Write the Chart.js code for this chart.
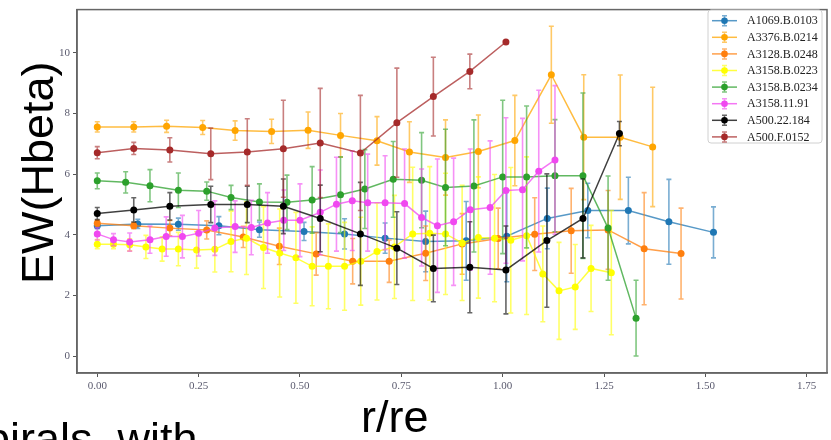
<!DOCTYPE html>
<html lang="en">
<head>
<meta charset="UTF-8">
<title>EW(Hbeta) vs r/re</title>
<script src="https://cdn.jsdelivr.net/npm/chart.js"></script>
<style>
  html, body { margin: 0; padding: 0; background: #fff; }
  #wrap { position: relative; width: 831px; height: 440px; overflow: hidden; }
  #chart { position: absolute; left: 0; top: 0; }
  .big {
    position: absolute;
    font-family: 'Liberation Sans', Arial, sans-serif;
    font-size: 45px;
    line-height: 1;
    color: #000;
    white-space: nowrap;
  }
  #ylab { left: 15px; top: 284px; transform: rotate(-90deg); transform-origin: 0 0; }
  #xlab { left: 361px; top: 394px; }
  #foot { left: -15px; top: 416px; }
</style>
</head>
<body>
<div id="wrap">
  <canvas id="chart" width="831" height="440"></canvas>
  <div class="big" id="ylab">EW(Hbeta)</div>
  <div class="big" id="xlab">r/re</div>
  <div class="big" id="foot">pirals, with</div>
</div>

<script>
// tick values
const xTicks = [0, 0.25, 0.5, 0.75, 1.0, 1.25, 1.5, 1.75];
const yTicks = [0, 2, 4, 6, 8, 10];

// A1069.B.0103
const a1069X = [0, 0.10, 0.20, 0.30, 0.40, 0.51, 0.61, 0.71, 0.81, 0.91, 1.01, 1.11, 1.21, 1.31, 1.41, 1.52];
const a1069Y = [4.30, 4.36, 4.35, 4.30, 4.17, 4.11, 4.03, 3.89, 3.78, 3.80, 3.95, 4.54, 4.80, 4.80, 4.43, 4.08];
const a1069Err = [0.1, 0.15, 0.2, 0.3, 0.25, 0.3, 0.5, 0.5, 1.0, 1.3, 1.5, 1.0, 0.9, 1.1, 1.4, 0.84];

// A3376.B.0214
const a3376X = [0, 0.09, 0.171, 0.26, 0.34, 0.43, 0.52, 0.60, 0.69, 0.77, 0.859, 0.94, 1.03, 1.12, 1.20, 1.29, 1.37];
const a3376Y = [7.56, 7.56, 7.58, 7.54, 7.44, 7.41, 7.45, 7.28, 7.10, 6.73, 6.55, 6.75, 7.11, 9.28, 7.22, 7.22, 6.90];
const a3376Err = [0.17, 0.17, 0.2, 0.23, 0.32, 0.4, 0.6, 0.72, 0.8, 1.0, 1.24, 1.2, 1.49, 1.6, 2.06, 2.05, 1.97];

// A3128.B.0248
const a3128X = [0, 0.09, 0.179, 0.27, 0.36, 0.449, 0.54, 0.63, 0.72, 0.81, 0.90, 0.989, 1.079, 1.169, 1.26, 1.349, 1.44];
const a3128Y = [4.38, 4.30, 4.22, 4.16, 3.93, 3.62, 3.37, 3.13, 3.13, 3.39, 3.70, 3.88, 4.02, 4.13, 4.16, 3.54, 3.38];
const a3128Err = [0.1, 0.1, 0.25, 0.3, 0.35, 0.6, 0.7, 0.75, 0.7, 0.9, 1.0, 1.0, 1.2, 1.4, 1.3, 1.85, 1.5];

// A3158.B.0223
const a3158bX = [0, 0.04, 0.08, 0.12, 0.16, 0.20, 0.245, 0.29, 0.33, 0.368, 0.41, 0.45, 0.49, 0.53, 0.57, 0.61,
                 0.65, 0.69, 0.733, 0.778, 0.82, 0.859, 0.90, 0.94, 0.98, 1.02, 1.059, 1.099, 1.139, 1.179, 1.218, 1.268];
const a3158bY = [3.69, 3.69, 3.67, 3.60, 3.53, 3.53, 3.50, 3.52, 3.78, 3.89, 3.58, 3.40, 3.24, 2.96, 2.96, 2.96,
                 3.13, 3.45, 3.60, 4.03, 4.05, 4.03, 3.73, 3.91, 3.89, 3.82, 3.97, 2.71, 2.15, 2.28, 2.89, 2.75];
const a3158bErr = [0.15, 0.15, 0.2, 0.38, 0.4, 0.55, 0.6, 0.75, 1.0, 1.2, 1.35, 1.45, 1.5, 1.3, 1.4, 1.45,
                   1.45, 1.6, 1.7, 2.2, 2.2, 2.0, 1.9, 2.0, 2.1, 2.4, 2.6, 1.58, 1.6, 1.4, 1.42, 2.05];

// A3158.B.0234
const a3158gX = [0, 0.07, 0.13, 0.20, 0.27, 0.33, 0.40, 0.468, 0.53, 0.60, 0.66, 0.73, 0.80, 0.859, 0.929,
                 1.0, 1.059, 1.129, 1.198, 1.26, 1.329];
const a3158gY = [5.78, 5.73, 5.62, 5.47, 5.44, 5.23, 5.08, 5.07, 5.15, 5.32, 5.51, 5.83, 5.80, 5.56, 5.61,
                 5.91, 5.91, 5.95, 5.95, 4.22, 1.25];
const a3158gErr = [0.26, 0.35, 0.53, 0.57, 0.3, 0.4, 0.6, 0.9, 1.1, 1.25, 1.3, 1.25, 1.57, 1.92, 2.18,
                   2.53, 2.34, 1.85, 2.73, 1.72, 1.25];

// A3158.11.91
const a3158mX = [0, 0.04, 0.08, 0.13, 0.17, 0.21, 0.25, 0.29, 0.34, 0.38, 0.42, 0.46, 0.50, 0.55, 0.59, 0.629,
                 0.667, 0.71, 0.758, 0.80, 0.839, 0.879, 0.92, 0.969, 1.008, 1.049, 1.089, 1.129];
const a3158mY = [4.03, 3.84, 3.76, 3.84, 3.94, 3.94, 4.05, 4.22, 4.27, 4.24, 4.39, 4.48, 4.48, 4.74, 5.01, 5.12,
                 5.06, 5.06, 5.03, 4.57, 4.30, 4.43, 4.83, 4.90, 5.46, 5.49, 6.10, 6.47];
const a3158mErr = [0.2, 0.2, 0.3, 0.45, 0.65, 0.7, 0.75, 0.9, 0.85, 0.9, 1.0, 1.0, 1.2, 1.4, 1.55, 1.64,
                   1.6, 1.55, 1.8, 1.6, 2.2, 2.1, 2.0, 2.2, 2.4, 2.35, 2.67, 2.45];

// A500.22.184
const a500bX = [0, 0.09, 0.179, 0.28, 0.37, 0.459, 0.55, 0.649, 0.739, 0.829, 0.919, 1.008, 1.109, 1.198, 1.288];
const a500bY = [4.70, 4.82, 4.94, 5.00, 5.00, 4.94, 4.54, 4.03, 3.56, 2.89, 2.93, 2.84, 3.81, 4.54, 7.34];
const a500bErr = [0.2, 0.4, 0.45, 0.6, 0.6, 0.9, 1.1, 1.7, 1.2, 1.1, 1.5, 1.45, 2.2, 1.3, 0.4];

// A500.F.0152
const a500fX = [0, 0.09, 0.179, 0.28, 0.37, 0.459, 0.55, 0.649, 0.739, 0.829, 0.919, 1.008];
const a500fY = [6.71, 6.85, 6.80, 6.67, 6.73, 6.84, 7.03, 6.70, 7.70, 8.56, 9.39, 10.36];
const a500fErr = [0.2, 0.2, 0.4, 0.85, 1.1, 1.6, 1.8, 1.9, 1.8, 1.3, 0.57, 0];

const series = [
  { label: 'A1069.B.0103', color: '#1f77b4', x: a1069X, y: a1069Y, err: a1069Err },
  { label: 'A3376.B.0214', color: '#ffa500', x: a3376X, y: a3376Y, err: a3376Err },
  { label: 'A3128.B.0248', color: '#ff7f0e', x: a3128X, y: a3128Y, err: a3128Err },
  { label: 'A3158.B.0223', color: '#ffff00', x: a3158bX, y: a3158bY, err: a3158bErr },
  { label: 'A3158.B.0234', color: '#2ca02c', x: a3158gX, y: a3158gY, err: a3158gErr },
  { label: 'A3158.11.91', color: '#f048f0', x: a3158mX, y: a3158mY, err: a3158mErr },
  { label: 'A500.22.184', color: '#000000', x: a500bX, y: a500bY, err: a500bErr },
  { label: 'A500.F.0152', color: '#a52a2a', x: a500fX, y: a500fY, err: a500fErr }
];

function rgba(hex, a) {
  const n = parseInt(hex.slice(1), 16);
  return 'rgba(' + (n >> 16) + ',' + ((n >> 8) & 255) + ',' + (n & 255) + ',' + a + ')';
}

// vertical error bars with caps, drawn under each dataset's line
const errorBars = {
  id: 'errorBars',
  beforeDatasetDraw(chart, args) {
    const ds = chart.data.datasets[args.index];
    const xs = chart.scales.x, ys = chart.scales.y;
    const ctx = chart.ctx;
    ctx.save();
    ctx.strokeStyle = ds.barColor;
    ctx.lineWidth = 1.6;
    ds.data.forEach((p, j) => {
      const e = ds.errors[j];
      if (!e) return;
      const px = xs.getPixelForValue(p.x);
      const top = ys.getPixelForValue(p.y + e);
      const bot = ys.getPixelForValue(p.y - e);
      ctx.beginPath();
      ctx.moveTo(px, top); ctx.lineTo(px, bot);
      ctx.moveTo(px - 2.5, top); ctx.lineTo(px + 2.5, top);
      ctx.moveTo(px - 2.5, bot); ctx.lineTo(px + 2.5, bot);
      ctx.stroke();
    });
    ctx.restore();
  }
};

// box round the axes + matplotlib-like legend in the upper right
const frameAndLegend = {
  id: 'frameAndLegend',
  afterDraw(chart) {
    const ctx = chart.ctx;
    const a = chart.chartArea;
    ctx.save();
    ctx.strokeStyle = '#666';
    ctx.lineWidth = 1.5;
    ctx.strokeRect(a.left, a.top, a.right - a.left, a.bottom - a.top);

    const bx = 708, by = 10, bw = 114, bh = 133, r = 3;
    ctx.beginPath();
    ctx.moveTo(bx + r, by);
    ctx.arcTo(bx + bw, by, bx + bw, by + bh, r);
    ctx.arcTo(bx + bw, by + bh, bx, by + bh, r);
    ctx.arcTo(bx, by + bh, bx, by, r);
    ctx.arcTo(bx, by, bx + bw, by, r);
    ctx.closePath();
    ctx.fillStyle = 'rgba(255,255,255,0.85)';
    ctx.fill();
    ctx.strokeStyle = '#d0d0d0';
    ctx.lineWidth = 1;
    ctx.stroke();

    ctx.font = '12px "Liberation Serif", serif';
    ctx.textBaseline = 'middle';
    chart.data.datasets.forEach((ds, i) => {
      const yy = 20.7 + i * 16.6;
      ctx.strokeStyle = ds.borderColor;
      ctx.lineWidth = 1.5;
      ctx.beginPath();
      ctx.moveTo(712, yy); ctx.lineTo(737, yy);
      ctx.stroke();
      ctx.strokeStyle = ds.barColor;
      ctx.beginPath();
      ctx.moveTo(724.5, yy - 5); ctx.lineTo(724.5, yy + 5);
      ctx.moveTo(722, yy - 5); ctx.lineTo(727, yy - 5);
      ctx.moveTo(722, yy + 5); ctx.lineTo(727, yy + 5);
      ctx.stroke();
      ctx.fillStyle = ds.pointBackgroundColor;
      ctx.beginPath();
      ctx.arc(724.5, yy, 3.3, 0, Math.PI * 2);
      ctx.fill();
      ctx.fillStyle = '#222';
      ctx.fillText(ds.label, 747, yy + 0.5);
    });
    ctx.restore();
  }
};

const n = series.length;
const datasets = series.map((s, i) => ({
  label: s.label,
  data: s.x.map((v, j) => ({ x: v, y: s.y[j] })),
  errors: s.err,
  borderColor: rgba(s.color, 0.75),
  barColor: rgba(s.color, 0.6),
  backgroundColor: s.color,
  pointBackgroundColor: s.color,
  pointBorderColor: s.color,
  pointBorderWidth: 0,
  pointRadius: 3.5,
  borderWidth: 1.5,
  tension: 0,
  order: n - i
}));

const tickFont = { family: '"Liberation Serif", serif', size: 11 };

new Chart(document.getElementById('chart').getContext('2d'), {
  type: 'line',
  data: { datasets: datasets },
  options: {
    responsive: false,
    animation: false,
    layout: { padding: { left: 0, top: 6, right: 3, bottom: 0 } },
    plugins: { legend: { display: false }, tooltip: { enabled: false } },
    scales: {
      x: {
        type: 'linear',
        min: -0.05,
        max: 1.80,
        afterBuildTicks: axis => { axis.ticks = xTicks.map(v => ({ value: v })); },
        afterFit: axis => { axis.height = 67; },
        ticks: { callback: v => v.toFixed(2), color: '#5a5a6e', font: tickFont, padding: 3, maxRotation: 0 },
        grid: { drawOnChartArea: false, drawTicks: true, tickLength: 4, color: '#555' },
        border: { color: '#666', width: 1.5 }
      },
      y: {
        min: -0.56,
        max: 11.43,
        afterBuildTicks: axis => { axis.ticks = yTicks.map(v => ({ value: v })); },
        afterFit: axis => { axis.width = 77; },
        ticks: { color: '#5a5a6e', font: tickFont, padding: 3 },
        grid: { drawOnChartArea: false, drawTicks: true, tickLength: 4, color: '#555' },
        border: { color: '#666', width: 1.5 }
      }
    }
  },
  plugins: [errorBars, frameAndLegend]
});
</script>
</body>
</html>
